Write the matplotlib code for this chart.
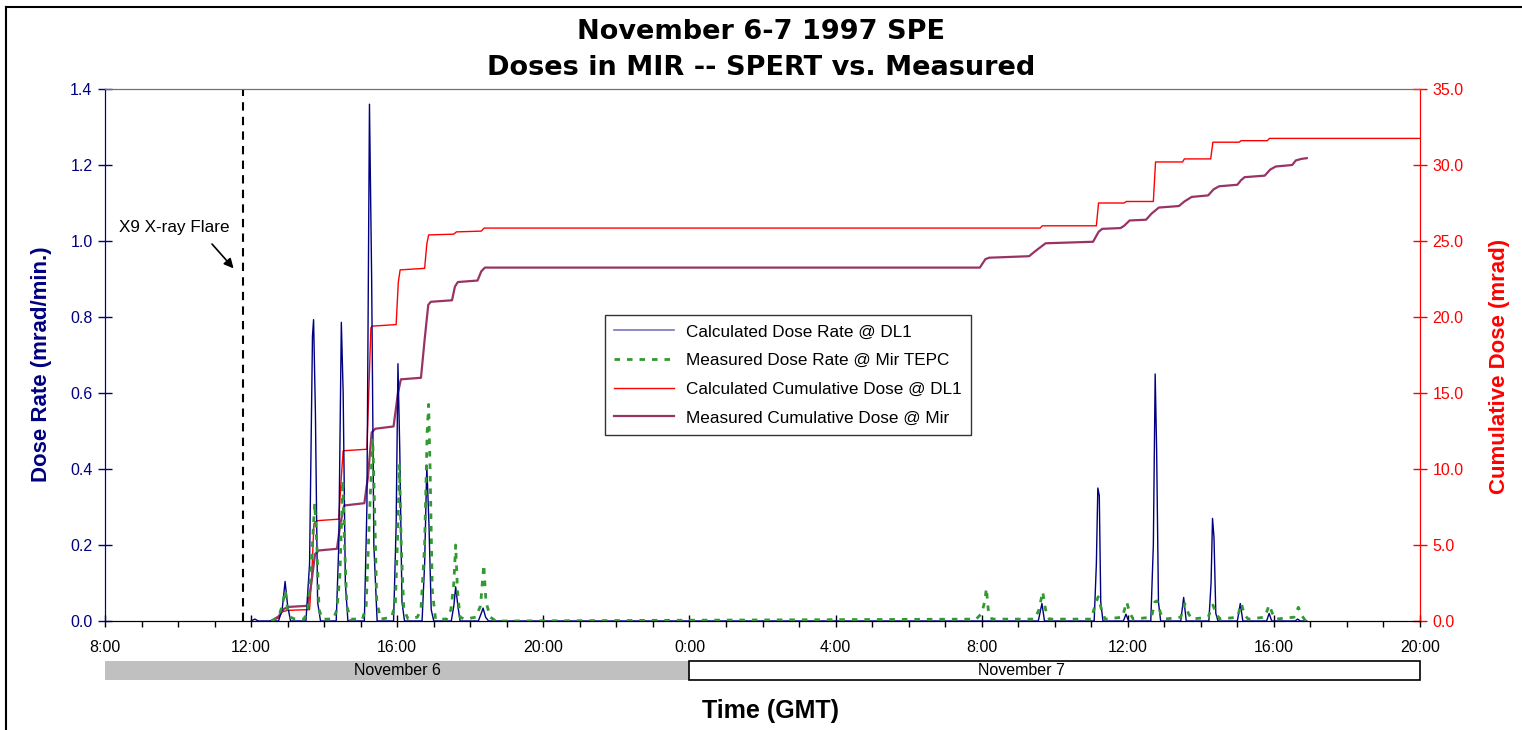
import matplotlib
matplotlib.use("Agg")
import matplotlib.pyplot as plt
from matplotlib.lines import Line2D
from matplotlib.patches import Rectangle
import numpy as np

plt.rcParams['font.family'] = ['Liberation Sans', 'DejaVu Sans']

# ---- data (hours since Nov 6 00:00 GMT) ----
calc_rate_t = [12.0, 12.1, 12.2, 12.75, 12.85, 12.93, 13.0, 13.08,
               13.5, 13.6, 13.68, 13.71, 13.76, 13.82, 13.9,
               14.33, 14.4, 14.47, 14.52, 14.58, 14.65,
               15.1, 15.17, 15.24, 15.3, 15.36, 15.45,
               15.9, 15.97, 16.02, 16.07, 16.13, 16.2,
               16.68, 16.75, 16.81, 16.87, 16.93, 17.0,
               17.48, 17.55, 17.6, 17.66, 17.72,
               18.22, 18.3, 18.35, 18.42, 18.5,
               33.55, 33.65, 33.72,
               35.08, 35.14, 35.18, 35.22, 35.26, 35.32,
               35.88, 35.95, 36.02,
               36.63, 36.7, 36.75, 36.79, 36.84, 36.9,
               37.45, 37.53, 37.6,
               38.22, 38.28, 38.32, 38.36, 38.41, 38.47,
               39.0, 39.08, 39.15,
               39.8, 39.87, 39.94,
               40.58, 40.65, 40.72, 40.9]
calc_rate_v = [0.0, 0.005, 0.0, 0.0, 0.03, 0.104, 0.04, 0.0,
               0.0, 0.15, 0.75, 0.793, 0.55, 0.05, 0.0,
               0.0, 0.2, 0.786, 0.6, 0.1, 0.0,
               0.0, 0.3, 1.36, 0.9, 0.2, 0.0,
               0.0, 0.25, 0.677, 0.45, 0.05, 0.0,
               0.0, 0.15, 0.41, 0.25, 0.03, 0.0,
               0.0, 0.04, 0.09, 0.04, 0.0,
               0.0, 0.02, 0.034, 0.01, 0.0,
               0.0, 0.046, 0.0,
               0.0, 0.15, 0.35, 0.33, 0.05, 0.0,
               0.0, 0.018, 0.0,
               0.0, 0.2, 0.65, 0.45, 0.05, 0.0,
               0.0, 0.062, 0.0,
               0.0, 0.1, 0.27, 0.22, 0.02, 0.0,
               0.0, 0.046, 0.0,
               0.0, 0.02, 0.0,
               0.0, 0.005, 0.0, 0.0]

meas_rate_t = [12.55, 12.75, 12.85, 12.94, 13.0, 13.08, 13.2, 13.45, 13.55, 13.65,
               13.74, 13.8, 13.86, 13.95, 14.25, 14.35, 14.43, 14.51, 14.56, 14.62,
               14.72, 15.05, 15.15, 15.25, 15.33, 15.38, 15.44, 15.55, 15.85, 15.95,
               16.02, 16.06, 16.11, 16.18, 16.3, 16.55, 16.65, 16.75, 16.82, 16.86,
               16.9, 16.96, 17.05, 17.35, 17.47, 17.55, 17.6, 17.65, 17.72, 17.85,
               18.15, 18.28, 18.37, 18.43, 18.55, 18.7,
               31.85, 32.0, 32.08, 32.13, 32.18, 32.28,
               33.45, 33.57, 33.67, 33.75, 33.85,
               35.0, 35.1, 35.19, 35.28, 35.38,
               35.85, 35.97, 36.06, 36.15,
               36.65, 36.74, 36.8, 36.9, 37.0,
               37.45, 37.56, 37.66, 37.75,
               38.2, 38.33, 38.42, 38.52,
               39.0, 39.11, 39.2, 39.3,
               39.75, 39.87, 39.96, 40.05,
               40.55, 40.67, 40.76, 40.87]
meas_rate_v = [0.0, 0.01, 0.04, 0.08, 0.03, 0.01, 0.005, 0.005, 0.03, 0.15,
               0.31, 0.2, 0.03, 0.005, 0.005, 0.03, 0.12, 0.37, 0.2, 0.04,
               0.005, 0.005, 0.04, 0.3, 0.48, 0.3, 0.05, 0.005, 0.01, 0.05,
               0.25, 0.41, 0.2, 0.03, 0.005, 0.01, 0.03, 0.2, 0.5, 0.57,
               0.4, 0.08, 0.005, 0.005, 0.03, 0.1, 0.2, 0.08, 0.01, 0.005,
               0.01, 0.04, 0.148, 0.05, 0.01, 0.0,
               0.005, 0.02, 0.05, 0.086, 0.03, 0.005,
               0.005, 0.03, 0.077, 0.03, 0.005,
               0.005, 0.04, 0.064, 0.03, 0.005,
               0.01, 0.05, 0.02, 0.005,
               0.01, 0.05, 0.053, 0.02, 0.005,
               0.01, 0.046, 0.02, 0.005,
               0.01, 0.042, 0.02, 0.005,
               0.01, 0.046, 0.015, 0.005,
               0.01, 0.042, 0.02, 0.005,
               0.01, 0.036, 0.015, 0.0]

calc_cum_t = [12.55, 12.75, 12.85, 13.0, 13.6, 13.66, 13.72, 13.8, 14.4, 14.47,
              14.52, 15.17, 15.22, 15.28, 15.32, 15.97, 16.03, 16.08, 16.75, 16.81,
              16.86, 17.55, 17.62, 18.3, 18.38, 33.6, 33.66, 35.14, 35.2, 35.9,
              35.96, 36.7, 36.76, 37.5, 37.55, 38.27, 38.33, 39.05, 39.1, 39.82,
              39.88, 44.0]
calc_cum_v = [0.0, 0.2, 0.6, 0.7, 0.75, 3.0, 6.4, 6.6, 6.7, 9.5,
              11.2, 11.3, 15.0, 19.3, 19.4, 19.5, 22.3, 23.1, 23.2, 24.8,
              25.4, 25.45, 25.6, 25.65, 25.85, 25.85, 26.0, 26.0, 27.5, 27.5,
              27.6, 27.6, 30.2, 30.2, 30.4, 30.4, 31.5, 31.5, 31.6, 31.6,
              31.75, 31.75]

meas_cum_t = [12.55, 12.75, 12.9, 13.05, 13.55, 13.65, 13.75, 13.85, 14.35, 14.45,
              14.55, 15.1, 15.2, 15.3, 15.4, 15.9, 16.02, 16.1, 16.65, 16.75,
              16.85, 16.92, 17.5, 17.58, 17.66, 18.2, 18.3, 18.4, 31.95, 32.1,
              32.2, 33.3, 33.45, 33.75, 35.05, 35.2, 35.3, 35.8, 35.9, 36.05,
              36.5, 36.65, 36.85, 37.4, 37.55, 37.75, 38.2, 38.35, 38.5, 39.0,
              39.1, 39.2, 39.75, 39.9, 40.05, 40.5, 40.6, 40.75, 40.9]
meas_cum_v = [0.0, 0.3, 0.8, 0.93, 1.0, 2.5, 4.4, 4.64, 4.75, 6.5,
              7.6, 7.75, 9.5, 12.4, 12.65, 12.8, 15.0, 15.9, 16.0, 18.5,
              20.8, 21.0, 21.1, 22.0, 22.3, 22.4, 23.0, 23.25, 23.25, 23.8,
              23.9, 24.0, 24.3, 24.85, 24.95, 25.6, 25.8, 25.85, 26.0, 26.35,
              26.4, 26.8, 27.2, 27.3, 27.6, 27.9, 28.0, 28.4, 28.6, 28.7,
              29.0, 29.2, 29.3, 29.7, 29.9, 30.0, 30.3, 30.4, 30.45]

flare_time = 11.77
x_tick_hours = [8, 12, 16, 20, 24, 28, 32, 36, 40, 44]
x_tick_labels = ['8:00', '12:00', '16:00', '20:00', '0:00', '4:00', '8:00', '12:00', '16:00', '20:00']
day_labels = ['November 6', 'November 7']
day_spans = [(8, 24), (24, 44)]

# ---- colours ----
c_blue = '#000080'
c_green = '#339933'
c_red = '#FF0000'
c_purple = '#993366'

fig = plt.figure(figsize=(15.22, 7.30), dpi=100)
ax = fig.add_axes([105/1522, 1-621/730, 1315/1522, 532/730])
ax2 = ax.twinx()

# figure frame (left & top)
fig.add_artist(Line2D([6/1522, 6/1522], [0, 1-7/730], color='black', lw=1.5, transform=fig.transFigure))
fig.add_artist(Line2D([6/1522, 1], [1-7/730, 1-7/730], color='black', lw=1.5, transform=fig.transFigure))

ax.plot(calc_rate_t, calc_rate_v, color=c_blue, lw=1.0, zorder=3)
ax.plot(meas_rate_t, meas_rate_v, color=c_green, lw=2.0, ls=(0, (2, 2.5)), zorder=4)
ax2.plot(calc_cum_t, calc_cum_v, color=c_red, lw=1.0)
ax2.plot(meas_cum_t, meas_cum_v, color=c_purple, lw=1.6)

ax.axvline(flare_time, color='black', lw=1.5, ls=(0, (4, 3)), zorder=2)
ax.text(8.37, 1.035, 'X9 X-ray Flare', ha='left', va='center', fontsize=12.3, color='black')
ax.annotate('', xy=(11.52, 0.928), xytext=(10.93, 0.992),
            arrowprops=dict(arrowstyle='-|>', color='black', lw=1.2,
                            mutation_scale=14, shrinkA=0, shrinkB=0),
            zorder=5)

ax.set_xlim(8, 44)
ax.set_ylim(0, 1.4)
ax2.set_ylim(0, 35)
ax.set_zorder(ax2.get_zorder() + 1)
ax.patch.set_visible(False)

ax.set_xticks(x_tick_hours)
ax.set_xticklabels(x_tick_labels, fontsize=11.5)
ax.set_xticks(np.arange(8, 45, 1), minor=True)
ax.set_yticks(np.arange(0, 1.41, 0.2))
ax.set_yticklabels([f'{v:.1f}' for v in np.arange(0, 1.41, 0.2)], fontsize=11.5, color=c_blue)
ax2.set_yticks(np.arange(0, 35.1, 5))
ax2.set_yticklabels([f'{v:.1f}' for v in np.arange(0, 35.1, 5)], fontsize=11.5, color=c_red)

ax.tick_params(axis='x', which='major', direction='inout', length=8, width=1, pad=10, colors='black')
ax.tick_params(axis='x', which='minor', direction='out', length=4, width=1)
ax.tick_params(axis='y', which='major', direction='inout', length=10, width=1, color=c_blue, pad=4)
ax2.tick_params(axis='y', which='major', direction='inout', length=10, width=1, color=c_red, pad=4)

for a in (ax, ax2):
    a.spines['top'].set_color('#707070')
    a.spines['bottom'].set_color('black')
    a.spines['left'].set_color(c_blue)
    a.spines['right'].set_color(c_red)

ax.set_ylabel('Dose Rate (mrad/min.)', fontsize=16, fontweight='bold', color=c_blue)
ax.yaxis.set_label_coords(-0.0405, 0.483)
ax2.set_ylabel('Cumulative Dose (mrad)', fontsize=16, fontweight='bold', color=c_red)
ax2.yaxis.set_label_coords(1.0525, 0.479)

fig.text(0.5, 1-32/730, 'November 6-7 1997 SPE', ha='center', va='center',
         fontsize=19.5, fontweight='bold', family=['DejaVu Sans'])
fig.text(0.5, 1-68/730, 'Doses in MIR -- SPERT vs. Measured', ha='center', va='center',
         fontsize=19.5, fontweight='bold', family=['DejaVu Sans'])
fig.text(770/1522, 1-711/730, 'Time (GMT)', ha='center', va='center',
         fontsize=18, fontweight='bold')

# date bars below the axis
trans = ax.get_xaxis_transform()
bar_bottom = -(680-621)/532
bar_h = 19/532
for (s, e), lab, fc in zip(day_spans, day_labels, ['#C0C0C0', 'white']):
    ec = 'none' if fc != 'white' else 'black'
    r = Rectangle((s, bar_bottom), e - s, bar_h, transform=trans, clip_on=False,
                  facecolor=fc, edgecolor=ec, lw=1.2)
    ax.add_patch(r)
    ax.text((s + e) / 2 + (0 if fc != 'white' else -0.9), bar_bottom + bar_h / 2, lab,
            transform=trans, ha='center', va='center', fontsize=11.5)

# legend
handles = [Line2D([], [], color='#7777bb', lw=1.2),
           Line2D([], [], color=c_green, lw=2, ls=(0, (2, 2.5))),
           Line2D([], [], color=c_red, lw=1.0),
           Line2D([], [], color=c_purple, lw=1.6)]
labels = ['Calculated Dose Rate @ DL1', 'Measured Dose Rate @ Mir TEPC',
          'Calculated Cumulative Dose @ DL1', 'Measured Cumulative Dose @ Mir']
leg = ax.legend(handles, labels, loc='upper left', bbox_to_anchor=(500/1315, (621-315)/532),
                fontsize=12.3, frameon=True, fancybox=False, edgecolor='black',
                handlelength=3.5, handletextpad=0.7, labelspacing=0.8, borderpad=0.55,
                borderaxespad=0)
leg.get_frame().set_linewidth(1.0)

fig.savefig('out.png', dpi=100)
